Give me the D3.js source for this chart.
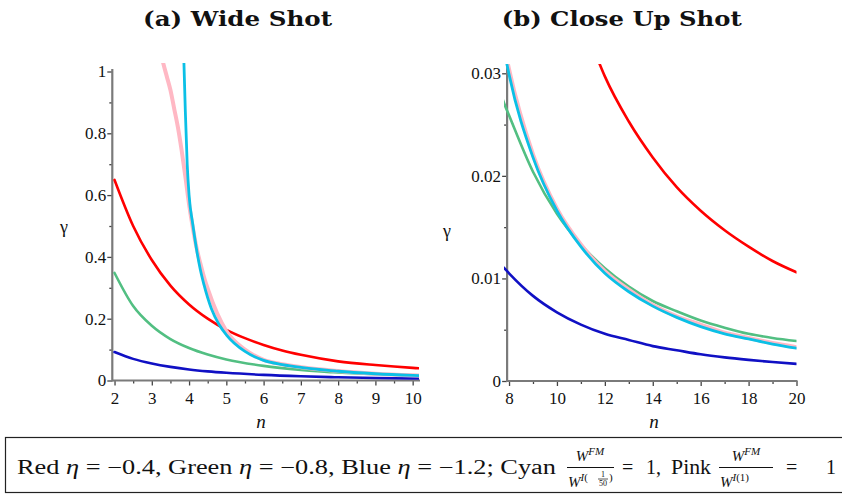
<!DOCTYPE html>
<html>
<head>
<meta charset="utf-8">
<script src="https://cdn.jsdelivr.net/npm/d3@7"></script>
<style>
body { margin: 0; background: #fff; }
svg { display: block; }
</style>
</head>
<body>
<svg id="chart" width="842" height="500"></svg>
<script>
(function() {
    'use strict';

    var SERIF = "'Liberation Serif', 'Times New Roman', Times, serif";

    // gamma, per series (n values, gamma values)
    var redN = [2, 2.5, 3, 3.5, 4, 4.5, 5, 5.5, 6, 6.5, 7, 8, 9, 10, 11, 11.8, 12, 13, 14, 15, 16, 17, 18, 19, 20];
    var redGamma = [0.649, 0.50, 0.39, 0.307, 0.246, 0.200, 0.164, 0.137, 0.115, 0.097, 0.083, 0.062, 0.050, 0.041, 0.035,
                    0.0308, 0.0297, 0.0253, 0.0218, 0.0189, 0.0166, 0.0147, 0.0131, 0.0117, 0.0106];

    var greenN = [2, 2.5, 3, 3.5, 4, 4.5, 5, 6, 7, 7.79, 8, 9, 10, 11, 12, 13, 14, 15, 16, 17, 18, 19, 20];
    var greenGamma = [0.348, 0.241, 0.177, 0.134, 0.105, 0.084, 0.068, 0.0473, 0.0343, 0.0271, 0.0259, 0.0204, 0.0163,
                      0.0133, 0.0110, 0.0092, 0.0078, 0.0068, 0.0059, 0.0052, 0.0046, 0.0042, 0.0039];

    var blueN = [2, 2.5, 3, 3.5, 4, 4.5, 5, 6, 7, 7.8, 8, 9, 10, 11, 12, 13, 14, 15, 16, 17, 18, 19, 20];
    var blueGamma = [0.092, 0.070, 0.055, 0.044, 0.0357, 0.0296, 0.0249, 0.0181, 0.0136, 0.0110, 0.0105, 0.0083, 0.0067,
                     0.0055, 0.0046, 0.0040, 0.0034, 0.0030, 0.0026, 0.0023, 0.00206, 0.00185, 0.00167];

    var cyanN = [3.84, 3.9, 3.95, 4, 4.1, 4.2, 4.3, 4.4, 4.6, 4.8, 5, 5.5, 6, 6.5, 7, 7.5, 7.92, 8, 9, 10, 11,
                 12, 13, 14, 15, 16, 17, 18, 19, 20];
    var cyanGamma = [1.12, 0.87, 0.70, 0.60, 0.505, 0.425, 0.36, 0.31, 0.232, 0.182, 0.148, 0.094, 0.065, 0.0515, 0.0424,
                     0.0356, 0.0308, 0.0299, 0.0218, 0.0166, 0.0131, 0.0105, 0.0087, 0.0073, 0.0062, 0.0053, 0.0046,
                     0.0041, 0.0036, 0.0032];

    var pinkN = [3.25, 3.3, 3.4, 3.5, 3.6, 3.7, 3.8, 3.9, 4, 4.1, 4.2, 4.3, 4.4, 4.5, 4.75, 5, 5.5, 6, 6.5, 7, 7.5, 8, 9,
                 10, 11, 12, 13, 14, 15, 16, 17, 18, 19, 20];
    var pinkGamma = [1.055, 1.03, 0.985, 0.94, 0.88, 0.82, 0.745, 0.66, 0.57, 0.495, 0.43, 0.38, 0.335, 0.297, 0.218, 0.160,
                     0.100, 0.067, 0.0525, 0.0432, 0.0364, 0.0304, 0.0221, 0.0168, 0.0133, 0.0107, 0.0089, 0.0074,
                     0.0063, 0.0055, 0.0047, 0.0042, 0.0037, 0.0033];

    // tick labels
    var wideXTicks = [2, 3, 4, 5, 6, 7, 8, 9, 10];
    var wideYTicks = [0, 0.2, 0.4, 0.6, 0.8, 1];
    var wideYLabels = ["0", "0.2", "0.4", "0.6", "0.8", "1"];
    var closeXTicks = [8, 10, 12, 14, 16, 18, 20];
    var closeYTicks = [0, 0.01, 0.02, 0.03];
    var closeYLabels = ["0", "0.01", "0.02", "0.03"];

    var series = [
        {n: redN, g: redGamma, color: "#ff0000", w: 2.6},
        {n: greenN, g: greenGamma, color: "#52bf82", w: 2.6},
        {n: blueN, g: blueGamma, color: "#1010c4", w: 2.6},
        {n: pinkN, g: pinkGamma, color: "#ffb8c4", w: 4},
        {n: cyanN, g: cyanGamma, color: "#0bc0e6", w: 2.8}
    ];

    var svg = d3.select("#chart");

    function styleTicks(sel) {
        sel.select(".domain").remove();
        sel.selectAll("line").attr("stroke", "#444").attr("stroke-width", 1.3);
        sel.selectAll("text")
            .style("font-family", SERIF)
            .style("font-size", "17px")
            .style("fill", "#111");
    }

    function drawPanel(cfg) {
        var x = d3.scaleLinear().domain(cfg.xDomain).range(cfg.xRange);
        var y = d3.scaleLinear().domain(cfg.yDomain).range(cfg.yRange);
        var axisX = x(cfg.axisAt);
        var y0 = y(0);

        // clip so curves stop at the plot frame
        svg.append("clipPath").attr("id", cfg.id)
            .append("rect")
            .attr("x", cfg.xRange[0])
            .attr("y", cfg.clipTop)
            .attr("width", cfg.xRange[1] - cfg.xRange[0])
            .attr("height", y0 - cfg.clipTop + 4);

        var g = svg.append("g");

        // minor ticks
        g.append("g")
            .attr("transform", "translate(0," + y0 + ")")
            .call(d3.axisBottom(x).tickValues(cfg.xMinor).tickSize(3).tickSizeOuter(0).tickFormat(""))
            .call(styleTicks);
        g.append("g")
            .attr("transform", "translate(" + axisX + ",0)")
            .call(d3.axisLeft(y).tickValues(cfg.yMinor).tickSize(3).tickSizeOuter(0).tickFormat(""))
            .call(styleTicks);

        // major ticks + labels
        g.append("g")
            .attr("transform", "translate(0," + y0 + ")")
            .call(d3.axisBottom(x).tickValues(cfg.xTicks).tickSize(5).tickPadding(6).tickSizeOuter(0))
            .call(styleTicks);
        g.append("g")
            .attr("transform", "translate(" + axisX + ",0)")
            .call(d3.axisLeft(y).tickValues(cfg.yTicks).tickSize(5).tickPadding(1)
                  .tickSizeOuter(0).tickFormat(function(d, i) { return cfg.yLabels[i]; }))
            .call(styleTicks);

        // axis lines
        g.append("line")
            .attr("x1", axisX).attr("x2", x(cfg.xDomain[1]) + 1)
            .attr("y1", y0).attr("y2", y0)
            .attr("stroke", "#7a7a7a").attr("stroke-width", 2.2);
        g.append("line")
            .attr("x1", axisX).attr("x2", axisX)
            .attr("y1", y0 + 1).attr("y2", y(cfg.yAxisTop))
            .attr("stroke", "#7a7a7a").attr("stroke-width", 2.2);

        // curves
        var line = d3.line()
            .x(function(d) { return x(d[0]); })
            .y(function(d) { return y(d[1]); })
            .curve(d3.curveMonotoneX);

        var curves = g.append("g").attr("clip-path", "url(#" + cfg.id + ")");
        series.forEach(function(s) {
            curves.append("path")
                .datum(d3.zip(s.n, s.g))
                .attr("fill", "none")
                .attr("stroke", s.color)
                .attr("stroke-width", s.w)
                .attr("stroke-linecap", "round")
                .attr("d", line);
        });

        // axis titles
        g.append("text")
            .attr("x", cfg.gammaPos[0]).attr("y", cfg.gammaPos[1])
            .style("font-family", SERIF).style("font-size", "18px").style("fill", "#111")
            .text("\u03b3");
        g.append("text")
            .attr("x", cfg.nPos[0]).attr("y", cfg.nPos[1])
            .attr("text-anchor", "middle")
            .style("font-family", SERIF).style("font-size", "19px").style("font-style", "italic")
            .style("fill", "#111")
            .text("n");

        // panel title
        svg.append("text")
            .attr("x", cfg.titleX).attr("y", 26)
            .attr("text-anchor", "middle")
            .attr("textLength", cfg.titleLen)
            .attr("lengthAdjust", "spacingAndGlyphs")
            .style("font-family", "'DejaVu Serif', serif")
            .style("font-weight", "bold")
            .style("font-size", "21px")
            .style("fill", "#111")
            .text(cfg.title);
    }

    drawPanel({
        id: "clipWide",
        xDomain: [1.94, 10.17], xRange: [112.3, 419],
        yDomain: [0, 1], yRange: [380.5, 71.5],
        axisAt: 1.94, yAxisTop: 1.008, clipTop: 63,
        xTicks: wideXTicks, xMinor: d3.range(2.5, 10.1, 1),
        yTicks: wideYTicks, yLabels: wideYLabels, yMinor: [0.1, 0.3, 0.5, 0.7, 0.9],
        gammaPos: [60, 233], nPos: [261, 428],
        title: "(a) Wide Shot", titleX: 237.5, titleLen: 189
    });

    drawPanel({
        id: "clipClose",
        xDomain: [7.79, 20], xRange: [504, 796.5],
        yDomain: [0, 0.03], yRange: [381, 73.3],
        axisAt: 7.92, yAxisTop: 0.0308, clipTop: 64,
        xTicks: closeXTicks, xMinor: [9, 11, 13, 15, 17, 19],
        yTicks: closeYTicks, yLabels: closeYLabels, yMinor: [0.005, 0.015, 0.025],
        gammaPos: [443, 237], nPos: [654, 428],
        title: "(b) Close Up Shot", titleX: 621.7, titleLen: 240
    });

    // caption box
    svg.append("rect")
        .attr("x", 5.5).attr("y", 437.5)
        .attr("width", 850).attr("height", 55)
        .attr("fill", "none").attr("stroke", "#222").attr("stroke-width", 1.2);

    var cap = svg.append("g")
        .style("font-family", SERIF).style("font-size", "20px").style("fill", "#111");

    var t1 = cap.append("text").attr("x", 17).attr("y", 474)
        .attr("textLength", 539).attr("lengthAdjust", "spacingAndGlyphs");
    [["Red ", false], ["\u03b7", true], [" = \u22120.4, Green ", false], ["\u03b7", true],
     [" = \u22120.8, Blue ", false], ["\u03b7", true], [" = \u22121.2; Cyan", false]].forEach(function(p) {
        t1.append("tspan").style("font-style", p[1] ? "italic" : "normal").text(p[0]);
    });

    function fraction(cx, x0, x1, denomSmall) {
        cap.append("line").attr("x1", x0).attr("x2", x1).attr("y1", 467.5).attr("y2", 467.5)
            .attr("stroke", "#111").attr("stroke-width", 1);
        var num = cap.append("text").attr("x", cx).attr("y", 461).attr("text-anchor", "middle");
        num.append("tspan").style("font-style", "italic").style("font-size", "15px").text("W");
        num.append("tspan").attr("dy", -6).style("font-style", "italic").style("font-size", "11px").text("FM");

        var den = cap.append("text").attr("x", x0 + 1).attr("y", 487);
        den.append("tspan").style("font-style", "italic").style("font-size", "15px").text("W");
        den.append("tspan").attr("dy", -6).style("font-style", "italic").style("font-size", "11px").text("I");
        den.append("tspan").style("font-size", "11px").text("(");
        if (denomSmall) {
            var fx = x0 + 31;
            cap.append("text").attr("x", fx + 5).attr("y", 477).attr("text-anchor", "middle")
                .style("font-size", "8px").text("1");
            cap.append("line").attr("x1", fx).attr("x2", fx + 10).attr("y1", 479).attr("y2", 479)
                .attr("stroke", "#111").attr("stroke-width", 0.7);
            cap.append("text").attr("x", fx + 5).attr("y", 486).attr("text-anchor", "middle")
                .style("font-size", "8px").text("50");
            cap.append("text").attr("x", fx + 11).attr("y", 481).style("font-size", "11px").text(")");
        } else {
            den.append("tspan").style("font-size", "11px").text("1)");
        }
    }

    fraction(590, 567, 614, true);
    cap.append("text").attr("x", 622).attr("y", 474).text("=");
    cap.append("text").attr("x", 646).attr("y", 474).text("1,");
    cap.append("text").attr("x", 671).attr("y", 474)
        .attr("textLength", 40).attr("lengthAdjust", "spacingAndGlyphs").text("Pink");
    fraction(746, 719, 773, false);
    cap.append("text").attr("x", 786).attr("y", 474).text("=");
    cap.append("text").attr("x", 826).attr("y", 474).text("1");
})();
</script>
</body>
</html>
